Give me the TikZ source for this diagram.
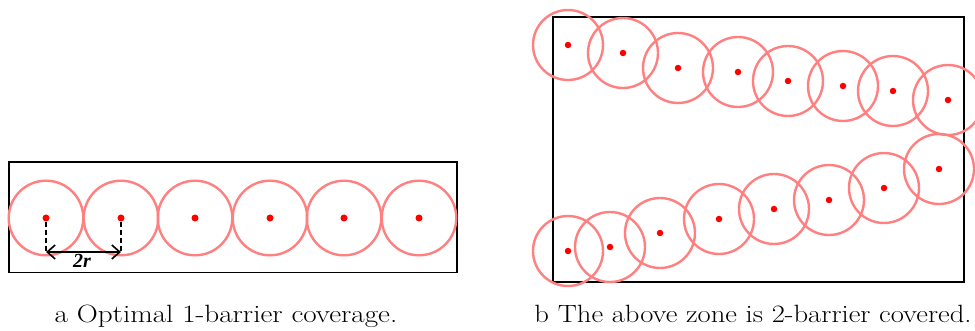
\documentclass[tikz,border=0pt]{standalone}
\usepackage{fontspec}
\newfontfamily\timesf{Liberation Serif}
\usetikzlibrary{arrows.meta}
\definecolor{ringcol}{RGB}{255,128,128}
\definecolor{dotcol}{RGB}{255,0,0}
\begin{document}
\begin{tikzpicture}[x=1pt,y=-1pt,
  zone/.style={draw=black,line width=1.8pt},
  ringL/.style={circle,draw=ringcol,line width=2.4pt,minimum size=74.6pt,inner sep=0pt},
  ringR/.style={circle,draw=ringcol,line width=2.4pt,minimum size=70pt,inner sep=0pt},
  dotL/.style={circle,fill=dotcol,minimum size=7pt,inner sep=0pt},
  dotR/.style={circle,fill=dotcol,minimum size=6.5pt,inner sep=0pt},
  captext/.style={font=\fontsize{25}{30}\selectfont,anchor=base,inner sep=0pt}]
\useasboundingbox (0,0) rectangle (975,331);
% left panel
\draw[zone] (9,162) rectangle (457,272.5);
\foreach \i/\x in {1/46,2/121,3/195,4/270,5/344,6/419}{
  \node[ringL] (lc\i) at (\x,218) {};
  \node[dotL] (ld\i) at (\x,218) {};
}
\coordinate (f1) at (46,252);
\coordinate (f2) at (121,252);
\draw[line width=1.6pt,dash pattern=on 5pt off 3pt] (ld1) -- (f1);
\draw[line width=1.6pt,dash pattern=on 5pt off 3pt] (ld2) -- (f2);
\draw[line width=1.6pt,{Straight Barb[length=8pt,width=14pt,line width=1.6pt]}-{Straight Barb[length=8pt,width=14pt,line width=1.6pt]}] (f1) -- (f2);
\node[font=\fontsize{20}{24}\selectfont\timesf\bfseries\itshape,anchor=base,inner sep=0pt] (lab) at (82,268) {2r};
% right panel
\draw[zone] (553,17) rectangle (964,282);
\foreach \i/\x/\y in {1/568/45,2/623/53,3/678/68,4/738/72,5/788/81,6/843/86,7/893/91,8/948/100}{
  \node[ringR] (tc\i) at (\x,\y) {};
  \node[dotR] (td\i) at (\x,\y) {};
}
\foreach \i/\x/\y in {1/568/251,2/610/247,3/660/233,4/719/219,5/774/209,6/829/200,7/884/188,8/939/169}{
  \node[ringR] (bc\i) at (\x,\y) {};
  \node[dotR] (bd\i) at (\x,\y) {};
}
% captions
\node[captext] (capa) at (226,322) {\scalebox{1.165}[1]{a Optimal 1-barrier coverage.}};
\node[captext] (capb) at (753,322) {\scalebox{1.145}[1]{b The above zone is 2-barrier covered.}};
\end{tikzpicture}
\end{document}
